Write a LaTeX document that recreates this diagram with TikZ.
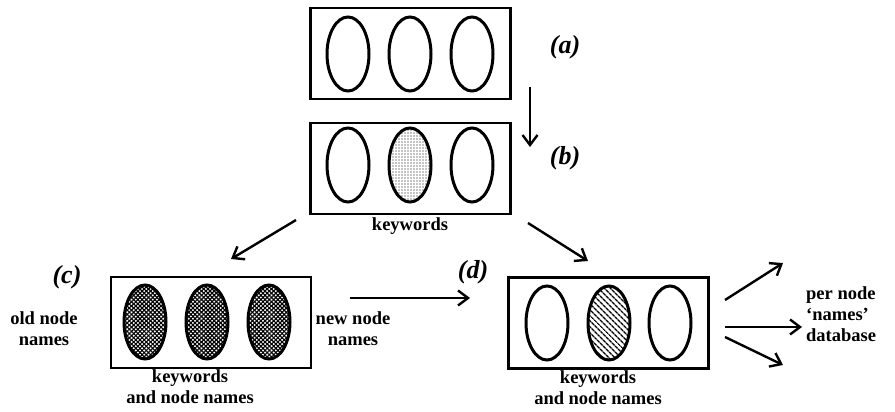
\documentclass[tikz,border=0pt]{standalone}
\usepackage{fontspec}
\setmainfont{Liberation Serif}
\usetikzlibrary{shapes.geometric,arrows.meta,patterns.meta}

\tikzset{
  panel/.style={draw, line width=2.3pt, rectangle, minimum width=200pt, minimum height=91pt, inner sep=0pt},
  cell/.style={draw, line width=3pt, ellipse, minimum width=42pt, minimum height=74pt, inner sep=0pt},
  dotted cell/.style={cell, preaction={pattern={Dots[radius=0.55pt, distance=3pt]}}},
  dark cell/.style={cell,
    preaction={pattern={Lines[angle=45, distance=3pt, line width=1.2pt]}},
    preaction={pattern={Lines[angle=-45, distance=3pt, line width=1.2pt]}}},
  hatched cell/.style={cell, preaction={pattern={Lines[angle=-45, distance=4pt, line width=1.5pt]}}},
  flow/.style={line width=2.4pt, -{Straight Barb[length=10pt, width=15pt, line width=2.4pt]}},
  caption/.style={font=\fontsize{18.5}{21}\selectfont\bfseries, align=center, inner sep=0pt},
  tag/.style={font=\fontsize{26}{28}\selectfont\bfseries\itshape, inner sep=0pt},
}

\begin{document}
\begin{tikzpicture}[x=1pt, y=-1pt]
  \useasboundingbox (0,0) rectangle (895,412);

  % stage (a)
  \node[panel] (A) at (410.5,53.5) {};
  \node[cell] (A1) at (348,54) {};
  \node[cell] (A2) at (410,54) {};
  \node[cell] (A3) at (472,54) {};
  \node[tag] (la) at (565,47) {(a)};

  % stage (b)
  \node[panel] (B) at (410.5,168.5) {};
  \node[cell] (B1) at (348,165) {};
  \node[dotted cell] (B2) at (410,165) {};
  \node[cell] (B3) at (472,165) {};
  \node[tag] (lb) at (565,158) {(b)};
  \node[caption] (kb) at (410,226) {keywords};

  % stage (c)
  \node[panel] (C) at (211,322.5) {};
  \node[dark cell] (C1) at (145,322) {};
  \node[dark cell] (C2) at (207,322) {};
  \node[dark cell] (C3) at (269,322) {};
  \node[tag] (lc) at (67,277) {(c)};
  \node[caption] (old) at (44,329) {old node\\names};
  \node[caption] (new) at (353,329) {new node\\names};
  \node[caption] (kc) at (190,387) {keywords\\and node names};

  % stage (d)
  \node[panel] (D) at (608.5,323) {};
  \node[cell] (D1) at (547,323) {};
  \node[hatched cell] (D2) at (609,323) {};
  \node[cell] (D3) at (670,323) {};
  \node[tag] (ld) at (473,272) {(d)};
  \node[caption] (kd) at (598,388) {keywords\\and node names};
  \node[caption, align=left, anchor=west] (db) at (806,314) {per node\\`names'\\database};

  % connector ends
  \coordinate (ab0) at (530,87);   \coordinate (ab1) at (530,147);
  \coordinate (bc0) at (296,220);  \coordinate (bc1) at (231,259);
  \coordinate (bd0) at (528,223);  \coordinate (bd1) at (588,261);
  \coordinate (cd0) at (350,298);  \coordinate (cd1) at (470,298);
  \coordinate (o10) at (725,300);  \coordinate (o11) at (783,263);
  \coordinate (o20) at (725,327);  \coordinate (o21) at (802,327);
  \coordinate (o30) at (725,337);  \coordinate (o31) at (783,365);

  \draw[flow] (ab0) -- (ab1);
  \draw[flow] (bc0) -- (bc1);
  \draw[flow] (bd0) -- (bd1);
  \draw[flow] (cd0) -- (cd1);
  \draw[flow] (o10) -- (o11);
  \draw[flow] (o20) -- (o21);
  \draw[flow] (o30) -- (o31);
\end{tikzpicture}
\end{document}
